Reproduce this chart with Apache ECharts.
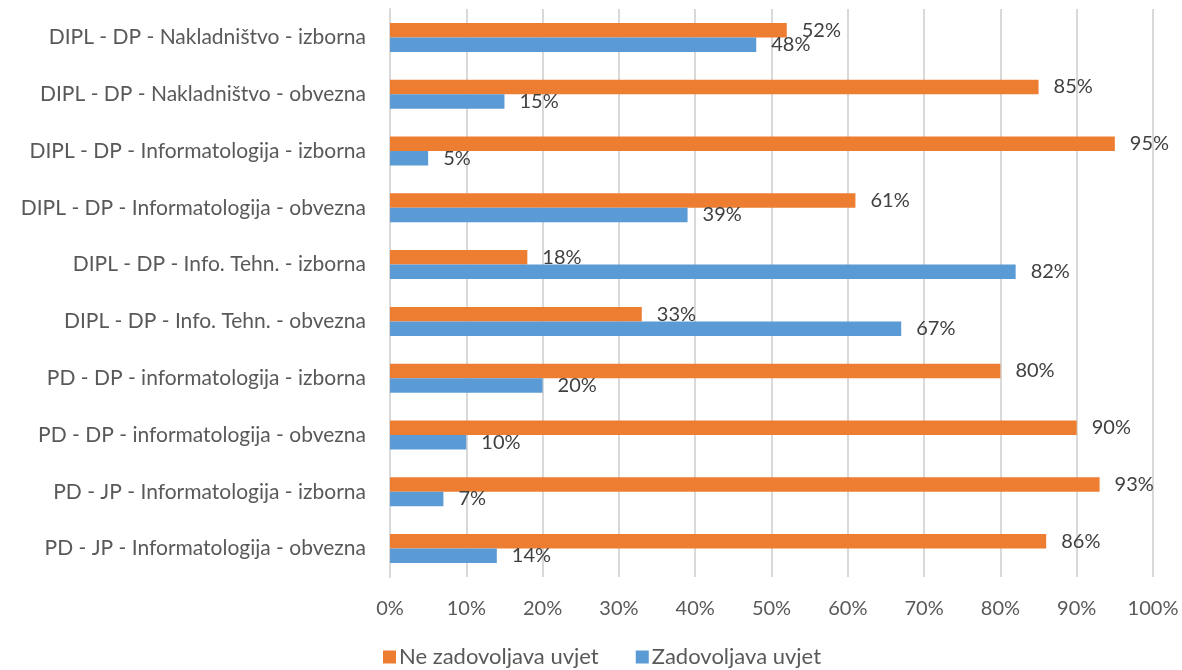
<!DOCTYPE html>
<html>
<head>
<meta charset="utf-8">
<script src="https://cdn.jsdelivr.net/npm/echarts@6/dist/echarts.min.js"></script>
<style>html,body{margin:0;padding:0;background:#fff}#c{width:1182px;height:670px}</style>
</head>
<body>
<div id="c"></div>
<script>
const categories = [
  "DIPL - DP - Nakladništvo - izborna",
  "DIPL - DP - Nakladništvo - obvezna",
  "DIPL - DP - Informatologija - izborna",
  "DIPL - DP - Informatologija - obvezna",
  "DIPL - DP - Info. Tehn. - izborna",
  "DIPL - DP - Info. Tehn. - obvezna",
  "PD - DP - informatologija - izborna",
  "PD - DP - informatologija - obvezna",
  "PD - JP - Informatologija - izborna",
  "PD - JP - Informatologija - obvezna"
];
const neZadovoljava = [52, 85, 95, 61, 18, 33, 80, 90, 93, 86];
const zadovoljava = [48, 15, 5, 39, 82, 67, 20, 10, 7, 14];
const seriesNames = ["Ne zadovoljava uvjet", "Zadovoljava uvjet"];

const FONT = "Lato";
const chart = echarts.init(document.getElementById('c'));
const labelCfg = {
  show: true, position: 'right', distance: 15,
  formatter: p => p.value + '%',
  color: '#404040', fontSize: 20, fontFamily: FONT
};
chart.setOption({
  animation: false,
  textStyle: { fontFamily: FONT },
  grid: { left: 390, right: 29, top: 9, bottom: 93, containLabel: false },
  legend: {
    bottom: -3, left: 378,
    itemWidth: 13, itemHeight: 13, itemGap: 37,
    icon: 'rect',
    textStyle: { fontSize: 22, color: '#595959', fontFamily: FONT, padding: [0, 0, 0, -2] },
    data: seriesNames
  },
  xAxis: {
    type: 'value', min: 0, max: 100, interval: 10,
    axisLabel: { formatter: '{value}%', fontSize: 20, color: '#595959', margin: 22, fontFamily: FONT },
    splitLine: { show: true, lineStyle: { color: '#D9D9D9', width: 2 } },
    axisLine: { show: false }, axisTick: { show: false }
  },
  yAxis: {
    type: 'category', data: categories, inverse: true,
    axisLabel: { fontSize: 21, color: '#595959', margin: 24, fontFamily: FONT },
    axisLine: { show: true, lineStyle: { color: '#D9D9D9', width: 2 } },
    axisTick: { show: false }
  },
  series: [
    { name: seriesNames[0], type: 'bar', data: neZadovoljava, barGap: '0%', barCategoryGap: '49%',
      itemStyle: { color: '#ED7D31' }, label: labelCfg },
    { name: seriesNames[1], type: 'bar', data: zadovoljava, barGap: '0%', barCategoryGap: '49%',
      itemStyle: { color: '#5B9BD5' }, label: labelCfg }
  ]
});
</script>
</body>
</html>
